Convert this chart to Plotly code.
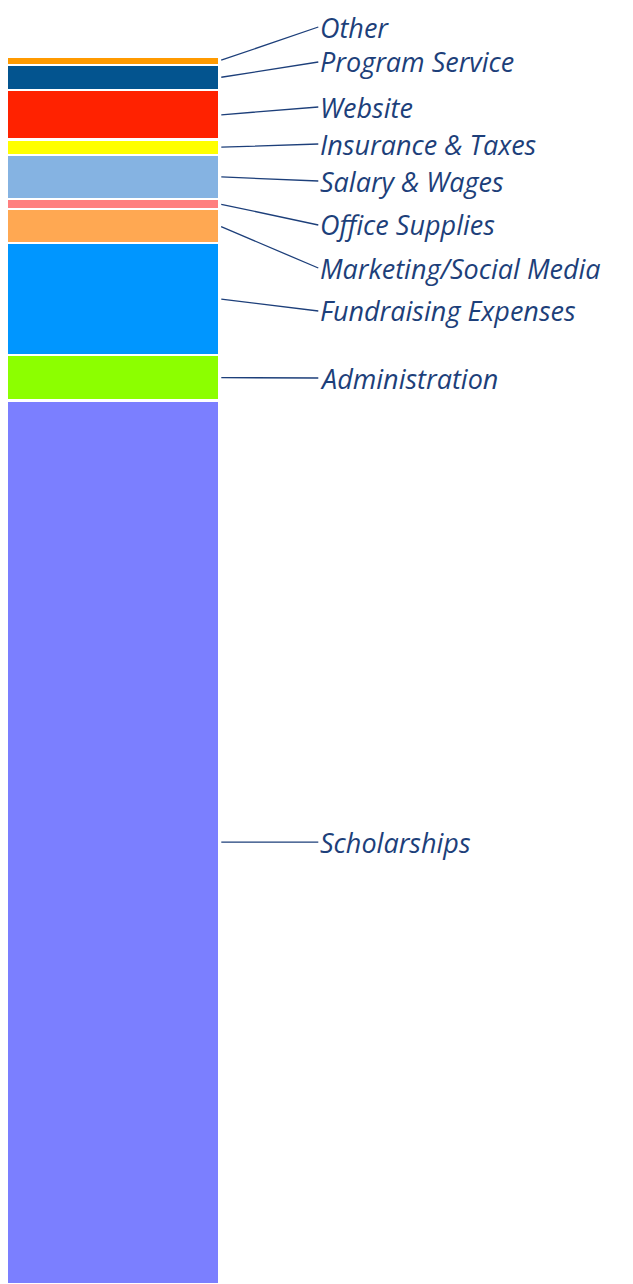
import plotly.graph_objects as go

# Data (top-to-bottom reading order), values in percent of total expenses
categories = ["Other", "Program Service", "Website", "Insurance & Taxes", "Salary & Wages",
              "Office Supplies", "Marketing/Social Media", "Fundraising Expenses",
              "Administration", "Scholarships"]
values = [0.63, 2.09, 4.01, 1.25, 3.58, 0.82, 2.77, 9.12, 3.72, 72.01]
colors = ["#ff9a00", "#03548f", "#ff2200", "#ffff00", "#85b3e2",
          "#ff7f7f", "#ffa852", "#0096ff", "#8cff00", "#7b7fff"]

# label text vertical positions (pixels from top of figure) - layout only; None = level with anchor
label_px = [19, 54, 99, 136, 173, 217, 260, 303, 370, None]

W, H = 625, 1276   # page body has 8px margin
TOP = 49  # bar top pixel within figure
total = sum(values)
ymax = total * H / (H - TOP)

fig = go.Figure()
for cat, val, col in reversed(list(zip(categories, values, colors))):
    fig.add_trace(go.Bar(x=[0], y=[val], name=cat, width=1,
                         marker=dict(color=col, line=dict(color="white", width=2.2)),
                         hoverinfo="name+y"))

# leader-line annotations anchored at segment centers
cum_top = total
for cat, val, lp in zip(categories, values, label_px):
    center = cum_top - val / 2
    cum_top -= val
    head_px = (ymax - center) / ymax * H
    dy = 0 if lp is None else lp - head_px
    fig.add_annotation(x=0.5, y=center, xref="x", yref="y",
                       text=cat, showarrow=True, arrowhead=0, arrowwidth=1.3,
                       arrowcolor="#1d3f7a", standoff=2,
                       ax=99, ay=dy, axref="pixel", ayref="pixel",
                       xanchor="left", yanchor="middle",
                       font=dict(family="Open Sans", size=27, color="#1d3f7a",
                                 style="italic", weight=400))

px_per_unit = 212.0
x0 = -0.5 + 0.7 / px_per_unit
fig.update_layout(
    width=W, height=H, barmode="stack", showlegend=False,
    margin=dict(l=0, r=0, t=0, b=0),
    paper_bgcolor="white", plot_bgcolor="white",
    xaxis=dict(range=[x0, x0 + W / px_per_unit], visible=False, fixedrange=True),
    yaxis=dict(range=[0, ymax], visible=False, fixedrange=True),
)
fig.write_html("out.html")
